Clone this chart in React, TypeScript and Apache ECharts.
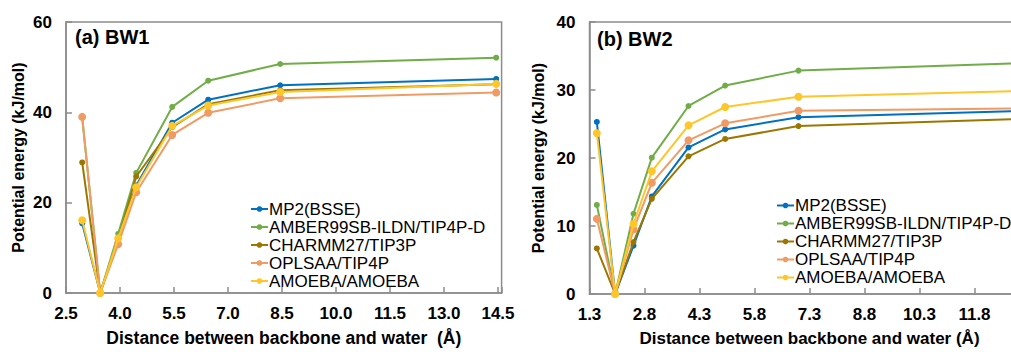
import React, { useEffect, useRef } from "react";
import * as echarts from "echarts";

const seriesNames = [
  "MP2(BSSE)",
  "AMBER99SB-ILDN/TIP4P-D",
  "CHARMM27/TIP3P",
  "OPLSAA/TIP4P",
  "AMOEBA/AMOEBA",
];
const seriesColors = ["#0070C0", "#70AD47", "#9C7700", "#F19B64", "#FFC62A"];
const symbolSizes = [6, 6, 6, 8, 8];

const xBW1 = [2.95, 3.45, 3.95, 4.45, 5.45, 6.45, 8.45, 14.45];
const bw1MP2 = [15.4, 0, 12.0, 23.8, 37.7, 42.8, 46.0, 47.4];
const bw1AMBER = [38.8, 0, 13.1, 26.6, 41.2, 47.0, 50.7, 52.1];
const bw1CHARMM = [28.9, 0, 11.8, 25.8, 36.7, 41.8, 44.9, 46.2];
const bw1OPLSAA = [39.0, 0, 10.8, 22.3, 35.0, 39.9, 43.1, 44.4];
const bw1AMOEBA = [16.1, 0, 12.1, 23.4, 37.0, 41.5, 44.5, 46.3];

const xBW2 = [1.5, 2.0, 2.5, 3.0, 4.0, 5.0, 7.0, 13.0];
const bw2MP2 = [25.3, 0, 7.1, 14.35, 21.55, 24.2, 26.0, 26.9];
const bw2AMBER = [13.1, 0, 11.8, 20.05, 27.65, 30.65, 32.85, 33.95];
const bw2CHARMM = [6.7, 0, 7.65, 14.0, 20.25, 22.8, 24.7, 25.75];
const bw2OPLSAA = [11.05, 0, 9.5, 16.35, 22.6, 25.1, 26.95, 27.3];
const bw2AMOEBA = [23.65, 0, 10.3, 18.05, 24.8, 27.5, 29.0, 29.85];

const bw1Series = [bw1MP2, bw1AMBER, bw1CHARMM, bw1OPLSAA, bw1AMOEBA];
const bw2Series = [bw2MP2, bw2AMBER, bw2CHARMM, bw2OPLSAA, bw2AMOEBA];

const panelTitles = ["(a) BW1", "(b) BW2"];
const xAxisTitles = [
  "Distance between backbone and water  (Å)",
  "Distance between backbone and water (Å)",
];
const yAxisTitle = "Potential energy (kJ/mol)";

const FONT = "'Liberation Sans', Arial, sans-serif";
const AXIS_GRAY = "#8C8C8C";

export default function App() {
  const ref = useRef<HTMLDivElement>(null);
  useEffect(() => {
    if (!ref.current) return;
    const chart = echarts.init(ref.current, null, { renderer: "svg" });

    const makeX = (idx: number, min: number, max: number, labelMax: number, titleSize: number) => ({
      type: "value",
      gridIndex: idx,
      min,
      max,
      interval: 1.5,
      name: xAxisTitles[idx],
      nameLocation: "middle",
      nameGap: 36,
      nameTextStyle: { fontFamily: FONT, fontSize: titleSize, fontWeight: "bold", color: "#000" },
      axisLine: { show: true, lineStyle: { color: AXIS_GRAY, width: 1.5 } },
      axisTick: { show: true, inside: true, length: 6, lineStyle: { color: AXIS_GRAY, width: 1.5 } },
      splitLine: { show: false },
      axisLabel: {
        fontFamily: FONT,
        fontSize: 17,
        fontWeight: "bold",
        color: "#000",
        margin: 12,
        formatter: (v: number) => {
          const k = (v - min) / 1.5;
          return Math.abs(k - Math.round(k)) < 1e-6 && v <= labelMax + 1e-6 ? v.toFixed(1) : "";
        },
      },
    });
    const makeY = (idx: number, max: number, interval: number) => ({
      type: "value",
      gridIndex: idx,
      min: 0,
      max,
      interval,
      name: yAxisTitle,
      nameLocation: "middle",
      nameGap: idx === 0 ? 40 : 43,
      nameTextStyle: { fontFamily: FONT, fontSize: 16, fontWeight: "bold", color: "#000" },
      axisLine: { show: true, lineStyle: { color: AXIS_GRAY, width: 1.5 } },
      axisTick: { show: true, inside: true, length: 6, lineStyle: { color: AXIS_GRAY, width: 1.5 } },
      splitLine: { show: false },
      axisLabel: { fontFamily: FONT, fontSize: 17, fontWeight: "bold", color: "#000", margin: 14 },
    });

    const series: any[] = [];
    [bw1Series, bw2Series].forEach((group, gi) => {
      const xs = gi === 0 ? xBW1 : xBW2;
      group.forEach((vals, si) => {
        series.push({
          type: "line",
          name: seriesNames[si],
          xAxisIndex: gi,
          yAxisIndex: gi,
          data: vals.map((v, i) => [xs[i], v]),
          symbol: "circle",
          symbolSize: symbolSizes[si],
          showSymbol: true,
          lineStyle: { color: seriesColors[si], width: 2 },
          itemStyle: { color: seriesColors[si] },
          color: seriesColors[si],
          z: 2 + si,
        });
      });
    });

    const legendBase = {
      orient: "vertical",
      data: seriesNames,
      itemWidth: 17,
      itemHeight: 7,
      itemGap: 1,
      textStyle: { fontFamily: FONT, fontSize: 17, lineHeight: 16, color: "#000", padding: [0, 0, 0, -4] },
      padding: 0,
    };

    chart.setOption({
      animation: false,
      color: seriesColors,
      grid: [
        { left: 66, top: 22, width: 435.6, height: 274, show: true, borderColor: AXIS_GRAY, borderWidth: 1.5, backgroundColor: "transparent" },
        { left: 589.5, top: 22, width: 440, height: 274, show: true, borderColor: AXIS_GRAY, borderWidth: 1.5, backgroundColor: "transparent" },
      ],
      xAxis: [makeX(0, 2.5, 14.6, 14.5, 17.5), makeX(1, 1.3, 13.3, 11.8, 17)],
      yAxis: [makeY(0, 60, 20), makeY(1, 40, 10)],
      legend: [
        { ...legendBase, left: 250, top: 200.5 },
        { ...legendBase, left: 776, top: 197 },
      ],
      graphic: [
        { type: "text", left: 75, top: 27, style: { text: panelTitles[0], font: `bold 20px ${FONT}`, fill: "#000" } },
        { type: "text", left: 597, top: 29, style: { text: panelTitles[1], font: `bold 20px ${FONT}`, fill: "#000" } },
      ],
      series,
    });
    return () => chart.dispose();
  }, []);
  return (
    <div style={{ position: "fixed", left: 0, top: 0, width: 1011, height: 352, background: "#fff", overflow: "hidden" }}>
      <div ref={ref} style={{ width: 1060, height: 352 }} />
    </div>
  );
}
